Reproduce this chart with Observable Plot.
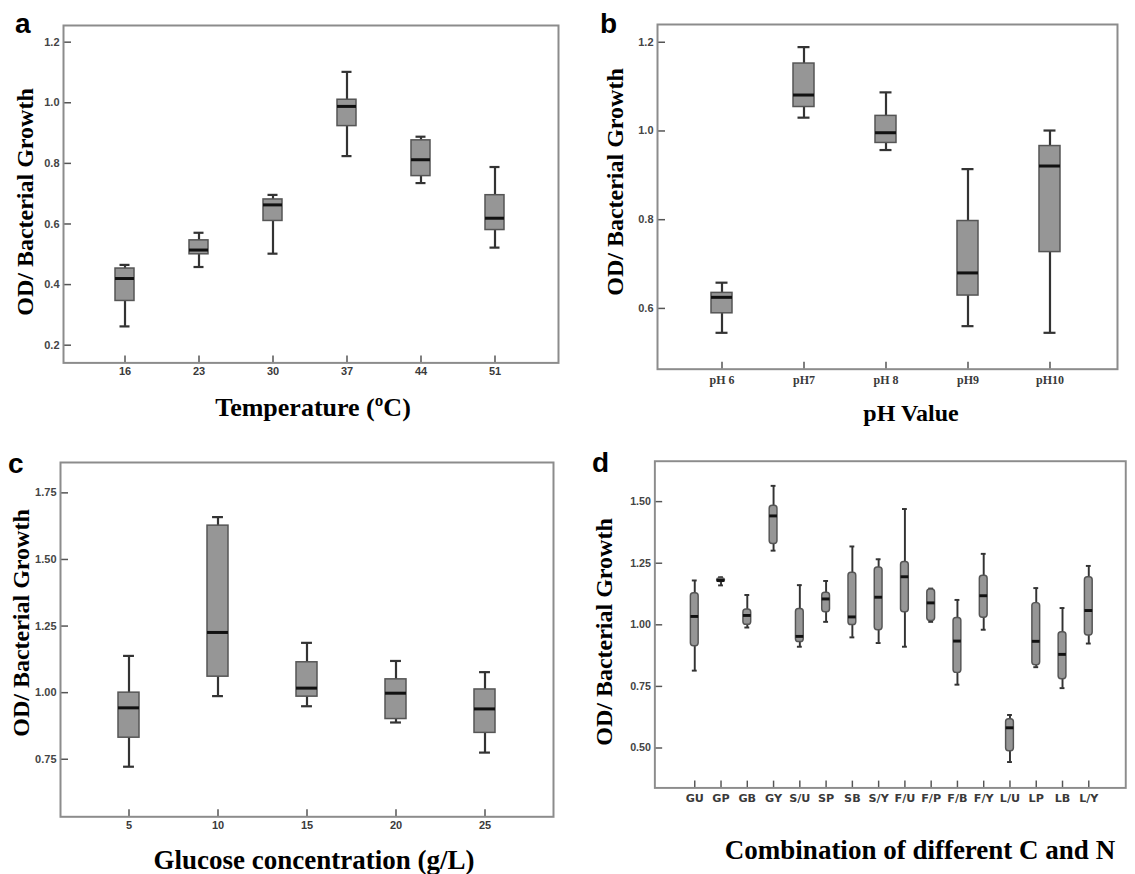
<!DOCTYPE html>
<html><head><meta charset="utf-8">
<script src="https://cdn.jsdelivr.net/npm/d3@7"></script>
<script src="https://cdn.jsdelivr.net/npm/@observablehq/plot@0.6"></script>
<style>
html,body{margin:0;padding:0;background:#fff;}
#root{position:relative;width:1135px;height:874px;overflow:hidden;background:#fff;}
#root > div.panel{position:absolute;}
#root > svg.overlay{position:absolute;left:0;top:0;pointer-events:none;}
</style></head><body><div id="root"></div>
<script>
// ---- Panel a: temperature ----
const tempCats = ["16","23","30","37","44","51"];
const tempHi  = [0.465, 0.571, 0.696, 1.102, 0.888, 0.788];
const tempQ3  = [0.453, 0.546, 0.681, 1.010, 0.876, 0.695];
const tempMed = [0.420, 0.514, 0.663, 0.988, 0.812, 0.619];
const tempQ1  = [0.346, 0.500, 0.610, 0.923, 0.758, 0.580];
const tempLo  = [0.262, 0.458, 0.502, 0.824, 0.735, 0.522];
const tempTicks = [0.2, 0.4, 0.6, 0.8, 1.0, 1.2];

// ---- Panel b: pH ----
const phCats = ["pH 6","pH7","pH 8","pH9","pH10"];
const phHi  = [0.658, 1.189, 1.087, 0.914, 1.001];
const phQ3  = [0.635, 1.152, 1.034, 0.797, 0.966];
const phMed = [0.625, 1.081, 0.996, 0.680, 0.921];
const phQ1  = [0.589, 1.054, 0.973, 0.629, 0.727];
const phLo  = [0.545, 1.030, 0.957, 0.560, 0.545];
const phTicks = [0.6, 0.8, 1.0, 1.2];

// ---- Panel c: glucose ----
const gluCats = ["5","10","15","20","25"];
const gluHi  = [1.138, 1.659, 1.187, 1.119, 1.077];
const gluQ3  = [1.000, 1.627, 1.114, 1.050, 1.012];
const gluMed = [0.943, 1.226, 1.017, 0.998, 0.939];
const gluQ1  = [0.831, 1.060, 0.985, 0.901, 0.849];
const gluLo  = [0.722, 0.987, 0.949, 0.888, 0.775];
const gluTicks = [0.75, 1.00, 1.25, 1.50, 1.75];

// ---- Panel d: C and N combinations ----
const cnCats = ["GU","GP","GB","GY","S/U","SP","SB","S/Y","F/U","F/P","F/B","F/Y","L/U","LP","LB","L/Y"];
const cnHi  = [1.180, 1.193, 1.121, 1.564, 1.161, 1.178, 1.318, 1.266, 1.470, 1.147, 1.101, 1.288, 0.634, 1.149, 1.068, 1.239];
const cnQ3  = [1.128, 1.188, 1.062, 1.483, 1.064, 1.130, 1.211, 1.233, 1.255, 1.143, 1.028, 1.199, 0.617, 1.088, 0.970, 1.193];
const cnMed = [1.034, 1.180, 1.038, 1.442, 0.953, 1.105, 1.032, 1.112, 1.195, 1.089, 0.934, 1.118, 0.582, 0.933, 0.880, 1.058];
const cnQ1  = [0.913, 1.174, 1.000, 1.328, 0.930, 1.051, 0.999, 0.978, 1.051, 1.016, 0.805, 1.029, 0.487, 0.836, 0.779, 0.957];
const cnLo  = [0.814, 1.160, 0.989, 1.301, 0.911, 1.012, 0.949, 0.926, 0.911, 1.012, 0.757, 0.980, 0.443, 0.828, 0.743, 0.924];
const cnTicks = [0.50, 0.75, 1.00, 1.25, 1.50];

const root = document.getElementById("root");
const SANS = "'Liberation Sans', Arial, sans-serif";
const SERIF = "'Liberation Serif', 'Times New Roman', serif";

function panel(cfg) {
  const {cats, lo, q1, med, q3, hi, L, R, T, B, c0, step, boxW, capW, yDomain, yTicks, yFormat,
         xFont, xFontSize, xPad, medW, whW, rx} = cfg;
  const rows = cats.map((c, i) => ({cat: c, lo: lo[i], q1: q1[i], med: med[i], q3: q3[i], hi: hi[i]}));
  const n = cats.length, W = R - L, H = B - T;
  const pi = 1 - boxW / step;
  const po = (W / step - n + pi) / 2;
  const align = (c0 - boxW / 2 - L) / (2 * po * step);
  const mL = 60, mR = 10, mT = 10, mB = 36;
  const capInset = (boxW - capW) / 2;
  const chart = Plot.plot({
    width: W + mL + mR, height: H + mT + mB,
    marginLeft: mL, marginRight: mR, marginTop: mT, marginBottom: mB,
    style: {background: "transparent", overflow: "visible"},
    x: {type: "band", domain: cats, paddingInner: pi, paddingOuter: po, align, axis: null, label: null},
    y: {domain: yDomain, axis: null, label: null},
    marks: [
      Plot.ruleX(cats, {x: d => d, insetTop: H - 7, stroke: "#555", strokeWidth: 1.5}),
      Plot.ruleY(yTicks, {y: d => d, insetRight: W - 8, stroke: "#555", strokeWidth: 1.5}),
      Plot.ruleX(rows, {x: "cat", y1: "lo", y2: "hi", stroke: "#333", strokeWidth: whW}),
      Plot.tickY(rows, {x: "cat", y: "lo", insetLeft: capInset, insetRight: capInset, stroke: "#333", strokeWidth: whW}),
      Plot.tickY(rows, {x: "cat", y: "hi", insetLeft: capInset, insetRight: capInset, stroke: "#333", strokeWidth: whW}),
      Plot.barY(rows, {x: "cat", y1: "q1", y2: "q3", fill: "#969696", stroke: "#555", strokeWidth: 1.5, rx: rx || 0}),
      Plot.tickY(rows, {x: "cat", y: "med", stroke: "#111", strokeWidth: medW}),
      Plot.frame({stroke: "#8c8c8c", strokeWidth: 2}),
      Plot.axisX({label: null, tickSize: 0, tickPadding: xPad, fontSize: xFontSize, fontWeight: "bold", fill: "#3a3a3a", fontFamily: xFont}),
      Plot.axisY({label: null, ticks: yTicks, tickFormat: yFormat, tickSize: 0, tickPadding: 4, fontSize: 11, fontWeight: "bold", fill: "#444", fontFamily: SANS})
    ]
  });
  const div = document.createElement("div");
  div.className = "panel";
  div.style.left = (L - mL) + "px";
  div.style.top = (T - mT) + "px";
  div.appendChild(chart);
  root.appendChild(div);
}

panel({cats: tempCats, lo: tempLo, q1: tempQ1, med: tempMed, q3: tempQ3, hi: tempHi,
  L: 63, R: 558, T: 25.3, B: 362.7, c0: 124, step: 74.2, boxW: 19, capW: 10,
  yDomain: [0.1416, 1.255], yTicks: tempTicks, yFormat: d3.format(".1f"),
  xFont: SANS, xFontSize: 11, xPad: 4, medW: 3, whW: 2.2});

panel({cats: phCats, lo: phLo, q1: phQ1, med: phMed, q3: phQ3, hi: phHi,
  L: 657, R: 1117, T: 24.3, B: 369, c0: 721, step: 82.3, boxW: 21, capW: 12,
  yDomain: [0.463, 1.240], yTicks: phTicks, yFormat: d3.format(".1f"),
  xFont: SERIF, xFontSize: 12, xPad: 6, medW: 3, whW: 2.2});

panel({cats: gluCats, lo: gluLo, q1: gluQ1, med: gluMed, q3: gluQ3, hi: gluHi,
  L: 60, R: 553, T: 461.7, B: 816, c0: 128.3, step: 89, boxW: 20.6, capW: 10.5,
  yDomain: [0.534, 1.864], yTicks: gluTicks, yFormat: d3.format(".2f"),
  xFont: SANS, xFontSize: 11, xPad: 4.5, medW: 3, whW: 2.2});

panel({cats: cnCats, lo: cnLo, q1: cnQ1, med: cnMed, q3: cnQ3, hi: cnHi,
  L: 656, R: 1140, T: 460.7, B: 796.5, c0: 693, step: 27.5, boxW: 8, capW: 5,
  yDomain: [0.338, 1.664], yTicks: cnTicks, yFormat: d3.format(".2f"),
  xFont: "'DejaVu Sans', sans-serif", xFontSize: 11.5, xPad: 6, medW: 3, whW: 2, rx: 3});

// ---- overlay texts ----
const svg = d3.select(root).append("svg").attr("class", "overlay").attr("width", 1135).attr("height", 874);
const letters = [["a", 15, 33], ["b", 600, 33], ["c", 8, 473], ["d", 592, 472]];
svg.selectAll("text.letter").data(letters).join("text").attr("class", "letter")
  .attr("x", d => d[1]).attr("y", d => d[2]).text(d => d[0])
  .attr("font-family", SANS).attr("font-weight", "bold").attr("font-size", 28).attr("fill", "#000");

const xTitles = [["Temperature (ºC)", 313, 416, 26], ["pH Value", 911, 421, 24],
                 ["Glucose concentration (g/L)", 314, 869, 27], ["Combination of different C and N", 920, 859, 27]];
svg.selectAll("text.xt").data(xTitles).join("text").attr("class", "xt")
  .attr("x", d => d[1]).attr("y", d => d[2]).text(d => d[0]).attr("text-anchor", "middle")
  .attr("font-family", SERIF).attr("font-weight", "bold").attr("font-size", d => d[3]).attr("fill", "#000");

const yTitles = [[33, 202], [623, 182], [29, 623], [612, 632]];
svg.selectAll("text.yt").data(yTitles).join("text").attr("class", "yt")
  .attr("transform", d => `translate(${d[0]},${d[1]}) rotate(-90)`).attr("text-anchor", "middle")
  .text("OD/ Bacterial Growth")
  .attr("font-family", SERIF).attr("font-weight", "bold").attr("font-size", 24).attr("fill", "#000");
</script></body></html>
